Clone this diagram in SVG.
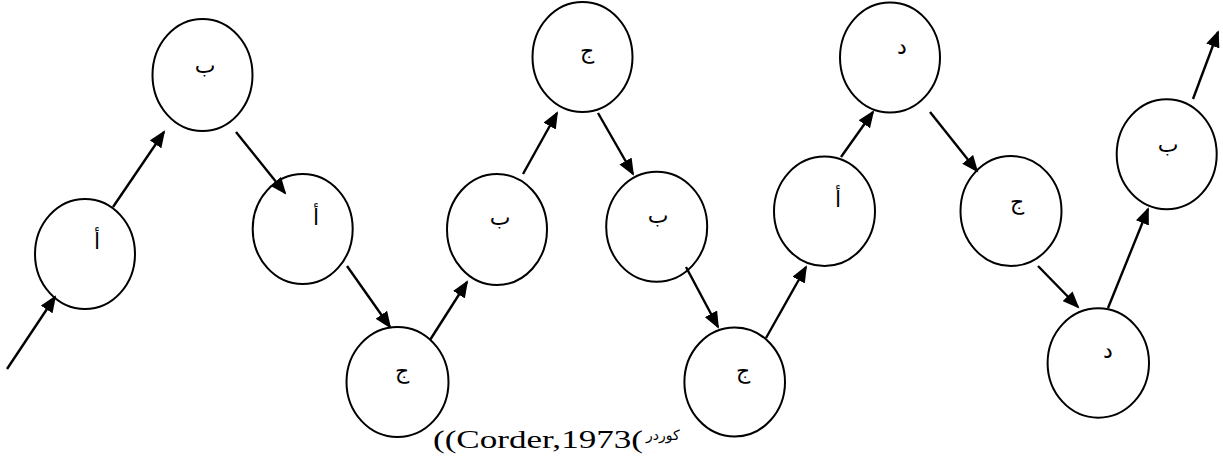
<svg xmlns="http://www.w3.org/2000/svg" width="1223" height="464" viewBox="0 0 1223 464">
<style>
.n ellipse{fill:#fff;stroke:#000;stroke-width:2}
.n text{font-family:"DejaVu Sans","Noto Sans",sans-serif;font-size:22px;fill:#000;text-anchor:middle}
.c path{fill:none;stroke:#000;stroke-width:2.4;marker-end:url(#ah)}
.cap{font-family:"Liberation Serif",serif;font-size:26px;fill:#000}
.capa{font-family:"DejaVu Sans","Noto Sans",sans-serif;font-size:14px;fill:#000}
</style>
<defs>
<marker id="ah" markerUnits="userSpaceOnUse" markerWidth="18" markerHeight="14" viewBox="0 0 18 14" refX="15" refY="7" orient="auto">
<path d="M0,0 L17,7 L0,14 Z" fill="#000"/>
</marker>
</defs>
<rect width="1223" height="464" fill="#fff"/>
<g id="n1" class="n"><ellipse cx="85" cy="254" rx="50" ry="55"/><text x="97" y="249">أ</text></g>
<g id="n2" class="n"><ellipse cx="202.5" cy="75" rx="50" ry="56"/><text x="205" y="73">ب</text></g>
<g id="n3" class="n"><ellipse cx="302.7" cy="229" rx="50" ry="55"/><text x="316" y="225">أ</text></g>
<g id="n4" class="n"><ellipse cx="397.5" cy="382" rx="51" ry="55"/><text x="402" y="378">ج</text></g>
<g id="n5" class="n"><ellipse cx="497" cy="229.5" rx="50" ry="55.5"/><text x="500" y="225">ب</text></g>
<g id="n6" class="n"><ellipse cx="582.5" cy="57" rx="50" ry="55"/><text x="587" y="58">ج</text></g>
<g id="n7" class="n"><ellipse cx="656.7" cy="226.7" rx="50.5" ry="55"/><text x="658" y="223">ب</text></g>
<g id="n8" class="n"><ellipse cx="734.7" cy="382" rx="50.3" ry="54.5"/><text x="743" y="378">ج</text></g>
<g id="n9" class="n"><ellipse cx="824.5" cy="211.3" rx="50.5" ry="54.7"/><text x="838" y="207">أ</text></g>
<g id="n10" class="n"><ellipse cx="890" cy="57.5" rx="50" ry="55"/><text x="902" y="54">د</text></g>
<g id="n11" class="n"><ellipse cx="1011" cy="211" rx="50.5" ry="55"/><text x="1017" y="209">ج</text></g>
<g id="n12" class="n"><ellipse cx="1098.3" cy="363" rx="50.7" ry="54.7"/><text x="1108" y="358">د</text></g>
<g id="n13" class="n"><ellipse cx="1166.7" cy="154.3" rx="50" ry="55"/><text x="1168" y="152">ب</text></g>
<g id="connectors" class="c">
<path d="M7,369 L55,297"/>
<path d="M113,207 L164,132"/>
<path d="M236,132 L285,193"/>
<path d="M347,266 L390,327"/>
<path d="M430,340 L467,282"/>
<path d="M523,174 L557,113"/>
<path d="M598,113 L633,174"/>
<path d="M686,267 L718,327"/>
<path d="M766,338 L806,267"/>
<path d="M841,157 L873,112"/>
<path d="M930,112 L977,171"/>
<path d="M1038,266 L1078,307"/>
<path d="M1108,308 L1148,209"/>
<path d="M1193,99 L1218,32"/>
</g>
<g id="caption">
<text class="cap" x="433" y="448" textLength="210" lengthAdjust="spacingAndGlyphs">((Corder,1973(</text>
<text class="capa" x="646" y="440">كوردر</text>
</g>
</svg>
